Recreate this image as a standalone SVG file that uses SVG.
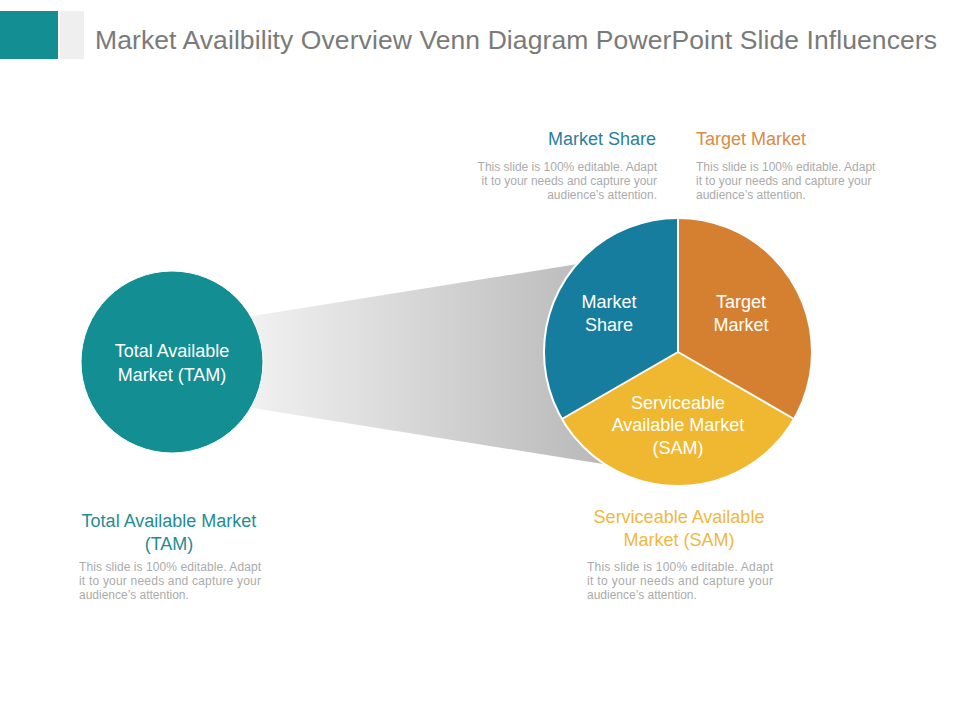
<svg xmlns="http://www.w3.org/2000/svg" width="960" height="720" viewBox="0 0 960 720">
  <defs>
    <linearGradient id="funnelGrad" x1="250" y1="0" x2="600" y2="0" gradientUnits="userSpaceOnUse">
      <stop offset="0" stop-color="#f1f1f1"/>
      <stop offset="1" stop-color="#b9b9b9"/>
    </linearGradient>
  </defs>
  <style>
    text { font-family: "Liberation Sans", Arial, sans-serif; }
    .title { font-size: 26.5px; fill: #7a7a7a; }
    .in { font-size: 18px; fill: #ffffff; text-anchor: middle; }
    .lbl { font-size: 18px; }
    .desc { font-size: 12px; fill: #ababab; }
    .sep { stroke: #ffffff; stroke-width: 2; fill: none; }
  </style>
  <rect x="0" y="0" width="960" height="720" fill="#ffffff"/>

  <g id="header">
    <rect x="0" y="11" width="58" height="48" fill="#138e93"/>
    <rect x="60" y="11" width="24" height="48" fill="#efefef"/>
    <text class="title" x="95" y="49" textLength="842" lengthAdjust="spacing">Market Availbility Overview Venn Diagram PowerPoint Slide Influencers</text>
  </g>

  <g id="connectors">
    <polygon points="172,329 640,254 640,470 172,395" fill="url(#funnelGrad)"/>
  </g>

  <g id="tam">
    <circle cx="172" cy="362" r="91" fill="#138e93" stroke="#ffffff" stroke-width="1"/>
    <text class="in" x="172" y="357">Total Available</text>
    <text class="in" x="172" y="381">Market (TAM)</text>
  </g>

  <g id="pie">
    <g id="market-share">
      <path d="M678,352 L678,218 A134,134 0 0 0 561.95,419 Z" fill="#167d9e"/>
      <text class="in" x="609" y="308">Market</text>
      <text class="in" x="609" y="331">Share</text>
    </g>
    <g id="target-market">
      <path d="M678,352 L678,218 A134,134 0 0 1 794.05,419 Z" fill="#d58031"/>
      <text class="in" x="741" y="308">Target</text>
      <text class="in" x="741" y="331">Market</text>
    </g>
    <g id="sam">
      <path d="M678,352 L794.05,419 A134,134 0 0 1 561.95,419 Z" fill="#f0b730"/>
      <text class="in" x="678" y="409">Serviceable</text>
      <text class="in" x="678" y="431">Available Market</text>
      <text class="in" x="678" y="454">(SAM)</text>
    </g>
    <circle cx="678" cy="352" r="134" class="sep" stroke-width="1.2"/>
    <path class="sep" d="M678,352 L678,218 M678,352 L561.95,419 M678,352 L794.05,419"/>
  </g>

  <g id="label-market-share">
    <text class="lbl" x="656" y="145" text-anchor="end" fill="#2a7f9c">Market Share</text>
    <text class="desc" x="657" y="171" text-anchor="end">This slide is 100% editable. Adapt</text>
    <text class="desc" x="657" y="185" text-anchor="end">it to your needs and capture your</text>
    <text class="desc" x="657" y="199" text-anchor="end">audience’s attention.</text>
  </g>

  <g id="label-target-market">
    <text class="lbl" x="696" y="145" fill="#d88b45">Target Market</text>
    <text class="desc" x="696" y="171">This slide is 100% editable. Adapt</text>
    <text class="desc" x="696" y="185">it to your needs and capture your</text>
    <text class="desc" x="696" y="199">audience’s attention.</text>
  </g>

  <g id="label-tam">
    <text class="lbl" x="169" y="527" text-anchor="middle" fill="#1f8d92">Total Available Market</text>
    <text class="lbl" x="169" y="550" text-anchor="middle" fill="#1f8d92">(TAM)</text>
    <text class="desc" x="79" y="571" textLength="182" lengthAdjust="spacing">This slide is 100% editable. Adapt</text>
    <text class="desc" x="79" y="585" textLength="182" lengthAdjust="spacing">it to your needs and capture your</text>
    <text class="desc" x="79" y="599">audience’s attention.</text>
  </g>

  <g id="label-sam">
    <text class="lbl" x="679" y="523" text-anchor="middle" fill="#f0b840">Serviceable Available</text>
    <text class="lbl" x="679" y="546" text-anchor="middle" fill="#f0b840">Market (SAM)</text>
    <text class="desc" x="587" y="571" textLength="186" lengthAdjust="spacing">This slide is 100% editable. Adapt</text>
    <text class="desc" x="587" y="585" textLength="186" lengthAdjust="spacing">it to your needs and capture your</text>
    <text class="desc" x="587" y="599">audience’s attention.</text>
  </g>
</svg>
